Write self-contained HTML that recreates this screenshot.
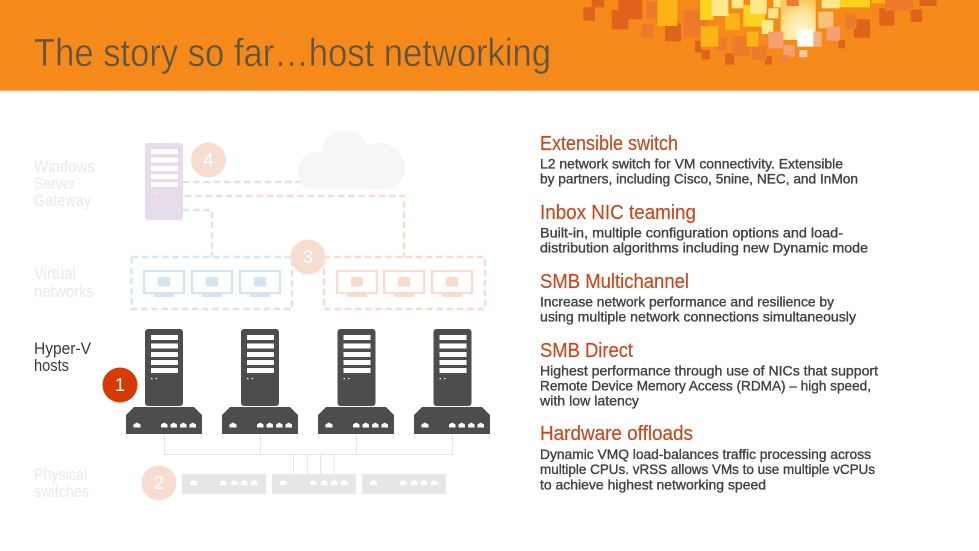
<!DOCTYPE html>
<html><head><meta charset="utf-8"><style>
html,body{margin:0;padding:0;background:#fff;width:979px;height:551px;overflow:hidden}
svg{display:block}
text{font-family:"Liberation Sans",sans-serif}
.h{font-size:20px;fill:#c9451a;stroke:#c9451a;stroke-width:.15}
.b{font-size:14px;fill:#404040;stroke:#404040;stroke-width:.35}
.l{font-size:17px;fill:#e9e9e9}
.k{font-size:17px;fill:#3a3a3a}
.n{font-size:18px;fill:#fff;text-anchor:middle}
</style></head><body>
<svg width="979" height="551" viewBox="0 0 979 551" xmlns="http://www.w3.org/2000/svg">
<defs>
<radialGradient id="g" cx=".6" cy=".8" r=".8"><stop offset="0" stop-color="#fff8d8"/><stop offset=".6" stop-color="#fde59a"/><stop offset="1" stop-color="#fcc860"/></radialGradient>
<clipPath id="cl"><rect x="290" y="125" width="120" height="64"/></clipPath>
<g id="srv"><rect width="38" height="77" rx="3"/>
<g fill="#fff"><rect x="6" y="6" width="27" height="5"/><rect x="6" y="14.500" width="27" height="5"/><rect x="6" y="23" width="27" height="5"/><rect x="6" y="31" width="27" height="5"/><rect x="6" y="39" width="27" height="5"/><rect x="6" y="49" width="1.500" height="1.200"/><rect x="10.500" y="49" width="1.500" height="1.200"/></g></g>
<g id="base"><path d="M8 0H68L76 8V27H0V8Z" fill="#4d4d4d"/>
<g fill="#fff"><path d="M7.500 20.500V17.500L11 15.500L14.500 17.500V20.500Z"/><path d="M35 20.500V17.500L38.200 15.500L41.500 17.500V20.500Z"/><path d="M44.500 20.500V17.500L47.700 15.500L51 17.500V20.500Z"/><path d="M54 20.500V17.500L57.200 15.500L60.500 17.500V20.500Z"/><path d="M63.500 20.500V17.500L66.700 15.500L70 17.500V20.500Z"/></g></g>
<g id="sw"><rect width="84" height="20" fill="#e6e6e6"/>
<g fill="#fff"><path d="M8 11V8L11.500 6L15 8V11Z"/><path d="M38 11V8L41.200 6L44.500 8V11Z"/><path d="M49 11V8L52.200 6L55.500 8V11Z"/><path d="M59 11V8L62.200 6L65.500 8V11Z"/><path d="M69 11V8L72.200 6L75.500 8V11Z"/></g></g>
<g id="mon"><rect x="1" y="1" width="40" height="22" fill="#fff" stroke-width="2.200" stroke="currentColor"/><rect x="11" y="24" width="20" height="3" fill="currentColor"/><rect x="15" y="7" width="12" height="9.500" rx="2" fill="currentColor"/></g>
</defs>
<rect width="979" height="90.700" fill="#f58a1a"/>
<g transform="translate(570 0) scale(.33333)">
<g fill="#e0621b"><rect x="40" y="22" width="35" height="40"/><rect x="65" y="0" width="38" height="22"/><rect x="125" y="30" width="50" height="58"/><rect x="145" y="0" width="72" height="58"/><rect x="285" y="70" width="48" height="54"/><rect x="375" y="122" width="20" height="35"/><rect x="395" y="150" width="25" height="28"/><rect x="465" y="160" width="27" height="34"/><rect x="585" y="168" width="20" height="26"/><rect x="852" y="58" width="48" height="55"/><rect x="928" y="25" width="45" height="52"/><rect x="1022" y="28" width="34" height="38"/><rect x="1048" y="0" width="52" height="18"/><rect x="805" y="120" width="20" height="25"/></g>
<g fill="#ee7a2c"><rect x="228" y="5" width="42" height="50"/><rect x="215" y="72" width="35" height="42"/><rect x="340" y="30" width="72" height="82"/><rect x="435" y="112" width="35" height="38"/><rect x="487" y="108" width="52" height="60"/><rect x="545" y="135" width="45" height="45"/><rect x="945" y="0" width="85" height="32"/><rect x="825" y="42" width="35" height="45"/></g>
<g fill="#fcb316"><rect x="262" y="0" width="60" height="78"/><rect x="392" y="78" width="53" height="62"/><rect x="465" y="40" width="45" height="50"/><rect x="530" y="95" width="35" height="45"/><rect x="905" y="0" width="40" height="10"/></g>
<g fill="#fdd21c"><rect x="390" y="0" width="40" height="60"/><rect x="520" y="15" width="65" height="65"/><rect x="810" y="0" width="90" height="22"/></g>
<g fill="#fde98a"><rect x="425" y="0" width="50" height="48"/><rect x="485" y="0" width="35" height="25"/><rect x="540" y="0" width="50" height="42"/><rect x="575" y="60" width="35" height="42"/><rect x="595" y="25" width="30" height="30"/><rect x="755" y="0" width="55" height="25"/><rect x="610" y="0" width="40" height="22"/></g>
<rect x="632" y="0" width="105" height="120" fill="url(#g)"/>
<g fill="#fbc27a"><rect x="745" y="35" width="45" height="50"/></g>
<g fill="#f5a070"><rect x="595" y="95" width="45" height="50"/><rect x="770" y="80" width="40" height="42"/><rect x="640" y="135" width="35" height="35"/></g>
<rect x="632" y="165" width="22" height="25" fill="#ee8240"/>
<rect x="688" y="150" width="24" height="22" fill="#f9c8a0"/>
<rect x="730" y="95" width="25" height="45" fill="#f8b080"/>
<rect x="682" y="88" width="48" height="52" fill="#fffef5"/>
<rect x="650" y="0" width="36" height="18" fill="#ee7a2c"/>
</g>
<text x="34" y="66" font-size="39" fill="#5f5540" stroke="#f58a1a" stroke-width=".5" textLength="517" lengthAdjust="spacingAndGlyphs">The story so far…host networking</text>

<g fill="none" stroke-width="2.500" stroke-dasharray="6.500 3.700">
<path d="M183 182H300" stroke="#e6dfea"/>
<path d="M185 196H404V257" stroke="#f7dccf"/>
<path d="M183 210H212V257" stroke="#d8e8f2"/>
<rect x="131.500" y="257" width="160.500" height="52" stroke="#d8e8f2"/>
<rect x="324" y="257" width="161" height="52" stroke="#f7dccf"/>
</g>
<g fill="#f6f6f6" clip-path="url(#cl)"><circle cx="318" cy="172" r="20.500"/><circle cx="345" cy="153" r="23"/><circle cx="380" cy="168" r="25"/><rect x="318" y="160" width="65" height="30"/></g>
<g color="#d3e5f2"><use href="#mon" x="143" y="270"/><use href="#mon" x="191" y="270"/><use href="#mon" x="239" y="270"/></g>
<g color="#f8dccf"><use href="#mon" x="336" y="270"/><use href="#mon" x="383" y="270"/><use href="#mon" x="431" y="270"/></g>
<use href="#srv" x="145" y="143" fill="#e6dcea"/>
<g fill="#4d4d4d"><use href="#srv" x="145" y="329"/><use href="#srv" x="241" y="329"/><use href="#srv" x="337.500" y="329"/><use href="#srv" x="433.500" y="329"/></g>
<use href="#base" x="126" y="407"/><use href="#base" x="222" y="407"/><use href="#base" x="318" y="407"/><use href="#base" x="414" y="407"/>
<path d="M164.500 434V454.500H452.500V434M260.500 434V454.500M356.500 434V454.500M293.500 454.500V474M307.500 454.500V474M320.500 454.500V474M334 454.500V474" fill="none" stroke="#e3e3e3" stroke-width="1"/>
<use href="#sw" x="182" y="474"/><use href="#sw" x="272" y="474"/><use href="#sw" x="362" y="474"/>
<circle cx="208.500" cy="160" r="17.500" fill="#f7ddd0"/><text class="n" x="208.500" y="166">4</text>
<circle cx="308" cy="257" r="17.500" fill="#f7ddd0"/><text class="n" x="308" y="263">3</text>
<circle cx="120" cy="385" r="17.500" fill="#d83b01"/><text class="n" x="120" y="391">1</text>
<circle cx="159" cy="483" r="17.500" fill="#f7ddd0"/><text class="n" x="159" y="489">2</text>

<text class="l" x="34" y="172" textLength="61" lengthAdjust="spacingAndGlyphs">Windows</text>
<text class="l" x="34" y="189" textLength="41" lengthAdjust="spacingAndGlyphs">Server</text>
<text class="l" x="34" y="206" textLength="57" lengthAdjust="spacingAndGlyphs">Gateway</text>
<text class="l" x="34" y="279" textLength="42" lengthAdjust="spacingAndGlyphs">Virtual</text>
<text class="l" x="34" y="297" textLength="60" lengthAdjust="spacingAndGlyphs">networks</text>
<text class="k" x="34" y="354" textLength="57" lengthAdjust="spacingAndGlyphs">Hyper-V</text>
<text class="k" x="34" y="371" textLength="35" lengthAdjust="spacingAndGlyphs">hosts</text>
<text class="l" x="34" y="480" textLength="53" lengthAdjust="spacingAndGlyphs">Physical</text>
<text class="l" x="34" y="497" textLength="55" lengthAdjust="spacingAndGlyphs">switches</text>

<text class="h" x="540" y="150" textLength="138" lengthAdjust="spacingAndGlyphs">Extensible switch</text>
<text class="b" x="540" y="168.500" textLength="303" lengthAdjust="spacingAndGlyphs">L2 network switch for VM connectivity. Extensible</text>
<text class="b" x="540" y="183.500" textLength="318" lengthAdjust="spacingAndGlyphs">by partners, including Cisco, 5nine, NEC, and InMon</text>
<text class="h" x="540" y="219" textLength="156" lengthAdjust="spacingAndGlyphs">Inbox NIC teaming</text>
<text class="b" x="540" y="237.500" textLength="303" lengthAdjust="spacingAndGlyphs">Built-in, multiple configuration options and load-</text>
<text class="b" x="540" y="252.500" textLength="328" lengthAdjust="spacingAndGlyphs">distribution algorithms including new Dynamic mode</text>
<text class="h" x="540" y="288" textLength="149" lengthAdjust="spacingAndGlyphs">SMB Multichannel</text>
<text class="b" x="540" y="306.500" textLength="294" lengthAdjust="spacingAndGlyphs">Increase network performance and resilience by</text>
<text class="b" x="540" y="321.500" textLength="316" lengthAdjust="spacingAndGlyphs">using multiple network connections simultaneously</text>
<text class="h" x="540" y="357" textLength="93" lengthAdjust="spacingAndGlyphs">SMB Direct</text>
<text class="b" x="540" y="375.500" textLength="338" lengthAdjust="spacingAndGlyphs">Highest performance through use of NICs that support</text>
<text class="b" x="540" y="390.500" textLength="331" lengthAdjust="spacingAndGlyphs">Remote Device Memory Access (RDMA) – high speed,</text>
<text class="b" x="540" y="405.500" textLength="99" lengthAdjust="spacingAndGlyphs">with low latency</text>
<text class="h" x="540" y="440" textLength="153" lengthAdjust="spacingAndGlyphs">Hardware offloads</text>
<text class="b" x="540" y="459" textLength="331" lengthAdjust="spacingAndGlyphs">Dynamic VMQ load-balances traffic processing across</text>
<text class="b" x="540" y="474" textLength="335" lengthAdjust="spacingAndGlyphs">multiple CPUs. vRSS allows VMs to use multiple vCPUs</text>
<text class="b" x="540" y="489.500" textLength="226" lengthAdjust="spacingAndGlyphs">to achieve highest networking speed</text>
</svg>
</body></html>
